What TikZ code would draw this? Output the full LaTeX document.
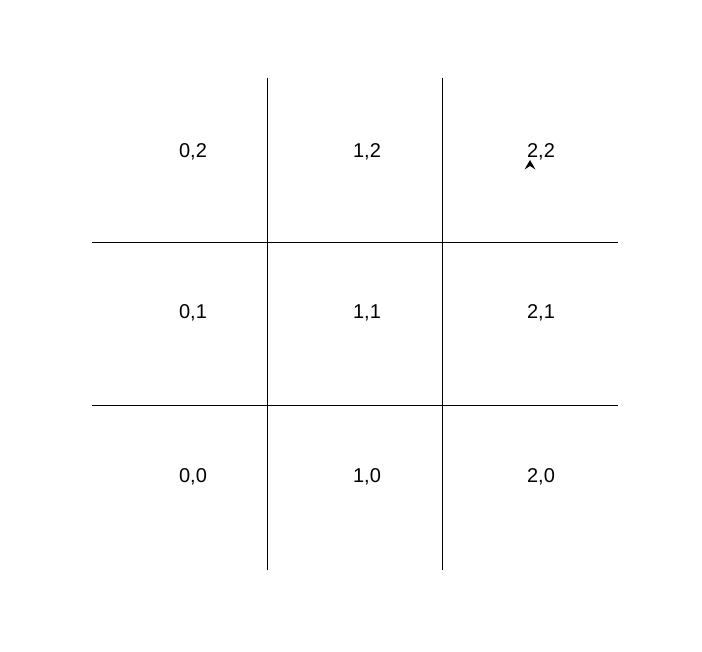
\documentclass[tikz,border=0pt]{standalone}
\usepackage{fontspec}
\setmainfont{Liberation Sans}
\usetikzlibrary{arrows.meta}

\begin{document}
\begin{tikzpicture}[x=1pt,y=-1pt,>=Stealth]
  \useasboundingbox (0,0) rectangle (702,652);
  % grid lines
  \foreach \x in {267,442}{
    \draw (\x,78) -- (\x,570);
  }
  \foreach \y in {242,405}{
    \draw (92,\y) -- (618,\y);
  }
  % cell labels
  \foreach \i/\x in {0/193,1/367,2/541}{
    \foreach \j/\y in {0/477,1/313,2/152}{
      \node[font=\fontsize{20}{22}\selectfont] (c\i\j) at (\x,\y) {\i,\j};
    }
  }
  % marker
  \fill (530,160) -- (535.5,169.5) -- (530,166) -- (524.5,169.5) -- cycle;
\end{tikzpicture}
\end{document}
